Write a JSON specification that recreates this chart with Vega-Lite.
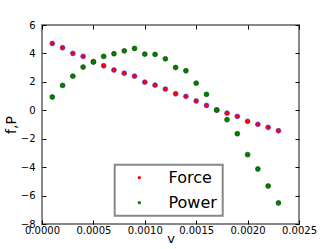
{
  "$schema": "https://vega.github.io/schema/vega-lite/v6.json",
  "width": 257,
  "height": 199,
  "autosize": {"type": "none"},
  "padding": {"left": 42, "top": 25, "right": 33, "bottom": 25},
  "background": "white",
  "data": {"values": [
    {"v": 0.0001, "series": "Force", "val": 4.70},
    {"v": 0.0002, "series": "Force", "val": 4.40},
    {"v": 0.0003, "series": "Force", "val": 4.00},
    {"v": 0.0004, "series": "Force", "val": 3.79},
    {"v": 0.0005, "series": "Force", "val": 3.42},
    {"v": 0.0006, "series": "Force", "val": 3.13},
    {"v": 0.0007, "series": "Force", "val": 2.83},
    {"v": 0.0008, "series": "Force", "val": 2.61},
    {"v": 0.0009, "series": "Force", "val": 2.40},
    {"v": 0.0010, "series": "Force", "val": 1.98},
    {"v": 0.0011, "series": "Force", "val": 1.77},
    {"v": 0.0012, "series": "Force", "val": 1.49},
    {"v": 0.0013, "series": "Force", "val": 1.16},
    {"v": 0.0014, "series": "Force", "val": 0.98},
    {"v": 0.0015, "series": "Force", "val": 0.65},
    {"v": 0.0016, "series": "Force", "val": 0.34},
    {"v": 0.0017, "series": "Force", "val": 0.03},
    {"v": 0.0018, "series": "Force", "val": -0.20},
    {"v": 0.0019, "series": "Force", "val": -0.43},
    {"v": 0.0020, "series": "Force", "val": -0.78},
    {"v": 0.0021, "series": "Force", "val": -0.99},
    {"v": 0.0022, "series": "Force", "val": -1.20},
    {"v": 0.0023, "series": "Force", "val": -1.44},
    {"v": 0.0001, "series": "Power", "val": 0.93},
    {"v": 0.0002, "series": "Power", "val": 1.75},
    {"v": 0.0003, "series": "Power", "val": 2.40},
    {"v": 0.0004, "series": "Power", "val": 3.04},
    {"v": 0.0005, "series": "Power", "val": 3.39},
    {"v": 0.0006, "series": "Power", "val": 3.79},
    {"v": 0.0007, "series": "Power", "val": 3.98},
    {"v": 0.0008, "series": "Power", "val": 4.18},
    {"v": 0.0009, "series": "Power", "val": 4.35},
    {"v": 0.0010, "series": "Power", "val": 3.95},
    {"v": 0.0011, "series": "Power", "val": 3.93},
    {"v": 0.0012, "series": "Power", "val": 3.62},
    {"v": 0.0013, "series": "Power", "val": 3.01},
    {"v": 0.0014, "series": "Power", "val": 2.78},
    {"v": 0.0015, "series": "Power", "val": 1.91},
    {"v": 0.0016, "series": "Power", "val": 1.12},
    {"v": 0.0017, "series": "Power", "val": 0.01},
    {"v": 0.0018, "series": "Power", "val": -0.66},
    {"v": 0.0019, "series": "Power", "val": -1.65},
    {"v": 0.0020, "series": "Power", "val": -3.12},
    {"v": 0.0021, "series": "Power", "val": -4.13},
    {"v": 0.0022, "series": "Power", "val": -5.33},
    {"v": 0.0023, "series": "Power", "val": -6.52}
  ]},
  "layer": [
    {
      "mark": {"type": "point", "filled": true, "size": 24, "strokeWidth": 0.6, "opacity": 1},
      "encoding": {
        "x": {"field": "v", "type": "quantitative",
              "scale": {"domain": [0, 0.0025], "nice": false, "zero": false},
              "axis": {"orient": "bottom", "values": [0, 0.0005, 0.001, 0.0015, 0.002, 0.0025], "format": ".4f", "title": "v", "labelPadding": 5, "titlePadding": -3}},
        "y": {"field": "val", "type": "quantitative",
              "scale": {"domain": [-8, 6], "nice": false, "zero": false},
              "axis": {"orient": "left", "values": [-8, -6, -4, -2, 0, 2, 4, 6], "title": "f,P", "labelPadding": 11, "titlePadding": 2, "titleFontSize": 14}},
        "color": {"field": "series", "type": "nominal",
                  "scale": {"domain": ["Force", "Power"], "range": ["#ff0000", "#008000"]},
                  "legend": {"title": null, "orient": "none", "legendX": 72.7, "legendY": 139.7}},
        "stroke": {"field": "series", "type": "nominal",
                   "scale": {"domain": ["Force", "Power"], "range": ["#3030ff", "#004000"]},
                   "legend": null}
      }
    },
    {
      "mark": {"type": "point", "opacity": 0},
      "encoding": {
        "x": {"field": "v", "type": "quantitative",
              "axis": {"orient": "top", "values": [0, 0.0005, 0.001, 0.0015, 0.002, 0.0025], "labels": false, "title": null}},
        "y": {"field": "val", "type": "quantitative",
              "axis": {"orient": "right", "values": [-8, -6, -4, -2, 0, 2, 4, 6], "labels": false, "title": null}}
      }
    }
  ],
  "resolve": {"axis": {"x": "independent", "y": "independent"}},
  "config": {
    "view": {"stroke": "#888888", "strokeWidth": 2},
    "font": "DejaVu Sans",
    "axis": {
      "domain": false, "grid": false,
      "tickSize": -4, "tickColor": "#000000", "tickWidth": 1,
      "labelOverlap": false, "labelFlush": false, "labelBound": false,
      "labelFont": "DejaVu Sans", "labelFontSize": 10, "labelColor": "#000000",
      "titleFont": "DejaVu Sans", "titleFontSize": 13, "titleFontWeight": "normal", "titleColor": "#000000"
    },
    "legend": {
      "padding": 5, "symbolOffset": 11.6, "labelOffset": 21.2, "rowPadding": 9,
      "labelFont": "DejaVu Sans", "labelFontSize": 16, "labelColor": "#000000",
      "strokeColor": "#888888", "strokeWidth": 2, "fillColor": "#ffffff",
      "symbolType": "circle", "symbolSize": 11, "symbolStrokeWidth": 0
    }
  }
}
